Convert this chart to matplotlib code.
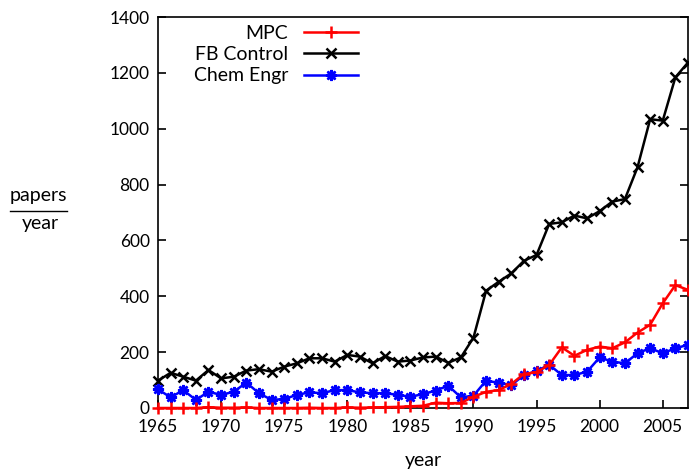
import matplotlib.pyplot as plt
import numpy as np
from matplotlib.lines import Line2D

plt.rcParams['font.family'] = ['Lato', 'DejaVu Sans']

years = np.arange(1965, 2008)

# papers per year
mpc = [0, 0, 0, 0, 3, 1, 1, 2, 0, 0, 0, 0, 1, 0, 0, 2, 1, 2, 3, 4,
       6, 8, 19, 17, 18, 40, 58, 64, 86, 122, 128, 154, 217, 187, 208, 220,
       214, 235, 270, 298, 375, 440, 423]
fb_control = [98, 126, 112, 98, 136, 106, 112, 134, 139, 130, 148, 160, 178, 178, 166, 190,
              184, 160, 186, 166, 170, 181, 184, 162, 181, 252, 420, 452, 482, 527,
              548, 659, 665, 689, 679, 705, 739, 748, 862, 1034, 1029, 1184, 1237]
chem_engr = [67, 38, 64, 29, 58, 47, 58, 91, 53, 29, 32, 47, 56, 53, 64, 64,
             56, 53, 53, 47, 40, 50, 62, 80, 38, 44, 98, 90, 82, 118,
             132, 155, 118, 118, 130, 181, 166, 160, 196, 214, 196, 214, 226]

fig = plt.figure(figsize=(6.89, 4.71), dpi=100)
ax = fig.add_axes([158 / 689, 1 - 408 / 471, 530 / 689, 391 / 471])

ax.plot(years, mpc, color='#ff0000', lw=1.8, marker='+', ms=8, mew=1.8, label='MPC',
        clip_on=False, zorder=5)
ax.plot(years, fb_control, color='black', lw=1.8, marker='x', ms=7.5, mew=1.8, label='FB Control',
        clip_on=False, zorder=4)
ax.plot(years, chem_engr, color='#0000ff', lw=1.8, marker=(8, 2, 0), ms=8, mew=1.8,
        label='Chem Engr', clip_on=False, zorder=4)

ax.set_xlim(1965, 2007)
ax.set_ylim(0, 1400)
ax.set_xticks(np.arange(1965, 2006, 5))
ax.set_yticks(np.arange(0, 1401, 200))
ax.tick_params(direction='in', labelsize=12.5, length=6, width=1.2, right=True, top=False)
ax.tick_params(axis='x', pad=8)
ax.tick_params(axis='y', pad=6)
for s in ax.spines.values():
    s.set_linewidth(1.2)

ax.set_xlabel('year', fontsize=14, labelpad=12)

# papers / year as a fraction
fig.text(38 / 689, 1 - 196 / 471, 'papers', fontsize=14, ha='center', va='center')
fig.text(40 / 689, 1 - 224 / 471, 'year', fontsize=14, ha='center', va='center')
fig.add_artist(Line2D([10 / 689, 67 / 689], [1 - 211 / 471, 1 - 211 / 471], color='black', lw=1.0))

ax.legend(loc='upper right', bbox_to_anchor=(0.4, 1.01), frameon=False, markerfirst=False,
          fontsize=14, handlelength=2.8, labelspacing=0.22, borderaxespad=0.2, handletextpad=0.8)

fig.savefig('out.png', dpi=100)
